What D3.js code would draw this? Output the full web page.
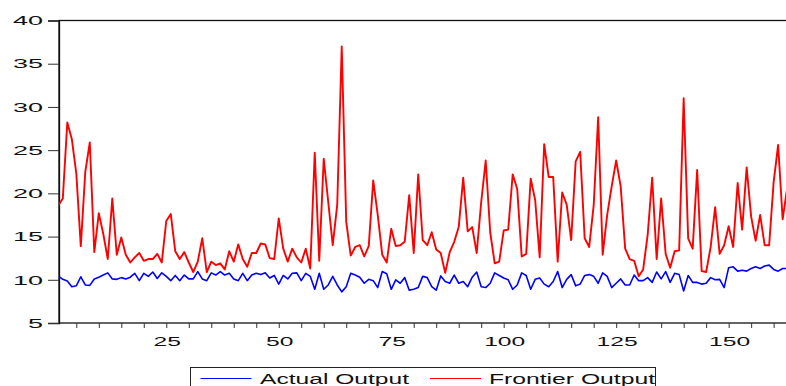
<!DOCTYPE html>
<html>
<head>
<meta charset="utf-8">
<script src="https://cdn.jsdelivr.net/npm/d3@7/dist/d3.min.js"></script>
<style>
html,body{margin:0;padding:0;background:#fff;overflow:hidden;}
svg{display:block;}
</style>
</head>
<body>
<svg id="chart" width="786" height="386"></svg>
<script>
// ---- data ----
const actualOutput = [
10.45,10.05,9.85,9.2,9.3,10.35,9.4,9.35,10.1,10.3,10.55,10.8,10.1,10.05,10.25,10.1,10.3,10.75,9.9,10.75,
10.4,10.9,10.15,10.8,10.4,9.9,10.5,9.9,10.55,10.1,10.1,10.95,10.1,9.9,10.8,10.55,10.95,10.55,10.75,10.1,
9.9,10.75,9.9,10.55,10.75,10.6,10.8,10.2,10.5,9.5,10.5,10.1,10.75,10.8,9.9,10.75,10.4,8.9,10.75,8.9,
9.4,10.4,9.4,8.6,9.2,10.75,10.55,10.3,9.6,10.05,9.9,9.1,10.95,10.7,8.9,10.0,9.6,10.25,8.8,8.9,
9.1,10.4,10.25,9.2,8.8,10.45,9.8,9.6,10.55,9.6,9.8,9.2,10.3,10.9,9.2,9.1,9.6,10.8,10.5,10.2,
10.0,8.9,9.4,10.8,10.5,8.9,10.05,10.2,9.5,9.2,9.8,10.95,9.1,10.05,10.6,9.3,9.5,10.5,10.6,10.4,
9.6,10.8,10.4,9.1,9.6,10.1,9.4,9.4,10.55,9.9,9.9,10.25,9.7,10.9,10.1,10.95,9.7,10.75,10.6,8.7,
10.5,9.7,9.7,9.5,9.6,10.25,10.0,10.05,9.1,11.4,11.5,11.0,11.1,11.0,11.3,11.5,11.3,11.6,11.7,11.2,
11.0,11.3,11.3];
const frontierOutput = [
18.6,19.4,28.2,26.3,22.3,13.9,22.5,25.9,13.2,17.7,15.3,12.4,19.4,12.9,14.9,12.9,12.0,12.6,13.1,12.2,
12.4,12.4,13.0,12.0,16.8,17.6,13.3,12.4,13.2,12.0,10.9,12.1,14.8,10.9,12.1,11.7,11.9,11.2,13.3,12.1,
14.1,12.4,11.5,13.1,13.1,14.2,14.1,12.5,12.4,17.1,13.6,12.1,13.6,12.6,12.0,13.6,11.3,24.7,12.2,24.0,
19.0,14.0,18.7,37.0,16.7,12.8,13.8,14.0,12.7,13.9,21.5,17.5,12.9,12.0,15.9,13.9,14.0,14.4,19.8,13.1,
22.2,14.6,14.0,15.5,13.5,13.1,10.8,13.2,14.4,16.1,21.8,15.6,16.1,13.1,19.0,23.8,15.5,11.9,12.1,15.7,
15.8,22.2,20.5,12.7,13.0,21.7,19.2,12.6,25.7,21.9,21.9,12.1,20.1,18.7,14.6,23.7,24.8,14.8,13.8,18.6,
28.8,12.9,17.5,20.8,23.8,20.8,13.6,12.4,12.2,10.4,11.2,15.2,21.8,12.4,19.4,13.0,11.4,13.3,13.4,31.0,
14.8,13.6,22.7,11.0,10.9,13.8,18.4,13.0,14.0,16.2,13.8,21.2,15.8,23.0,17.3,14.5,17.5,14.0,14.0,21.3,
25.6,17.0,20.6];
const yTicks = [5,10,15,20,25,30,35,40];
const xLabelTicks = [25,50,75,100,125,150];
const xMinorTicks = d3.range(5,165,5);
const seriesNames = ["Actual Output","Frontier Output"];
const seriesColors = ["#0000ff","#ff0000"];

// ---- layout ----
const svg = d3.select("#chart");
const pLeft = 59, pTop = 20.5, pBottom = 323, pRight = 787;
const x = d3.scaleLinear().domain([1,163]).range([58.3, 58.3 + 162*4.499]);
const y = d3.scaleLinear().domain([5,40]).range([pBottom, pTop]);
const font = "'Liberation Sans', Arial, sans-serif";

// clip
svg.append("defs").append("clipPath").attr("id","plotclip")
  .append("rect").attr("x",pLeft).attr("y",pTop-2).attr("width",pRight-pLeft).attr("height",pBottom-pTop+4);

// frame
svg.append("rect").attr("x",pLeft).attr("y",pTop).attr("width",pRight+5-pLeft).attr("height",pBottom-pTop)
  .attr("fill","none").attr("stroke","#111").attr("stroke-width",1.3);

// y axis ticks & labels
const yAxis = d3.axisLeft(y).tickValues(yTicks).tickSize(11).tickPadding(5);
const gy = svg.append("g").attr("transform",`translate(${pLeft},0)`).call(yAxis);
gy.select(".domain").attr("stroke","#111").attr("stroke-width",1.3);
gy.selectAll(".tick line").attr("stroke","#333").attr("stroke-width",1);
gy.selectAll(".tick text").attr("font-family",font).attr("font-size",12.5).attr("fill","#111")
  .attr("x",-16).attr("dy","0.34em")
  .attr("textLength",d=>String(d).length*15).attr("lengthAdjust","spacingAndGlyphs");

// x minor ticks
const xAxis = d3.axisBottom(x).tickValues(xMinorTicks).tickSize(5).tickFormat("");
const gx = svg.append("g").attr("transform",`translate(0,${pBottom})`).call(xAxis);
gx.select(".domain").remove();
gx.selectAll(".tick line").attr("stroke","#333").attr("stroke-width",1);
// x labels
svg.append("g").selectAll("text").data(xLabelTicks).join("text")
  .attr("x",d=>x(d)+1).attr("y",345.5).attr("text-anchor","middle")
  .attr("font-family",font).attr("font-size",12.5).attr("fill","#111")
  .attr("textLength",d=>String(d).length*13.7).attr("lengthAdjust","spacingAndGlyphs")
  .text(d=>d);

// lines
const lineGen = d3.line().x((d,i)=>x(i+1)).y(d=>y(d));
const plot = svg.append("g").attr("clip-path","url(#plotclip)");
plot.append("path").datum(actualOutput).attr("d",lineGen)
  .attr("fill","none").attr("stroke",seriesColors[0]).attr("stroke-width",1.6).attr("stroke-linejoin","round");
plot.append("path").datum(frontierOutput).attr("d",lineGen)
  .attr("fill","none").attr("stroke",seriesColors[1]).attr("stroke-width",1.9).attr("stroke-linejoin","round");

// legend
const lg = svg.append("g");
lg.append("rect").attr("x",190.5).attr("y",367.5).attr("width",465).attr("height",40)
  .attr("fill","#fff").attr("stroke","#222").attr("stroke-width",1);
const legendItems = [
  {name:seriesNames[0], color:seriesColors[0], x1:200.5, x2:251.5, tx:260, tw:149},
  {name:seriesNames[1], color:seriesColors[1], x1:430, x2:481, tx:489, tw:166}
];
legendItems.forEach(it=>{
  lg.append("line").attr("x1",it.x1).attr("x2",it.x2).attr("y1",378.5).attr("y2",378.5)
    .attr("stroke",it.color).attr("stroke-width",1);
  lg.append("text").attr("x",it.tx).attr("y",383.5).attr("font-family",font).attr("font-size",15.5)
    .attr("fill","#111").attr("textLength",it.tw).attr("lengthAdjust","spacingAndGlyphs").text(it.name);
});
</script>
</body>
</html>
